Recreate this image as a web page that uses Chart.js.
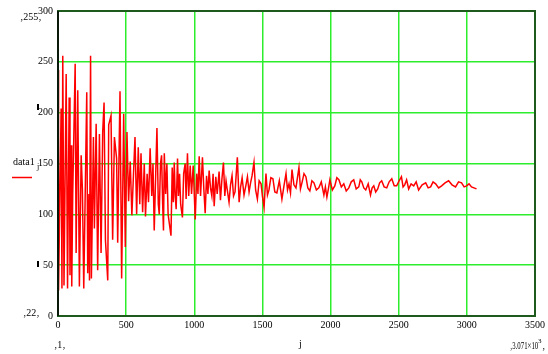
<!DOCTYPE html>
<html>
<head>
<meta charset="utf-8">
<script src="https://cdn.jsdelivr.net/npm/chart.js@4.4.0/dist/chart.umd.min.js"></script>
<style>
  html, body { margin: 0; padding: 0; background: #ffffff; }
  #wrap { width: 548px; height: 354px; position: relative; }
</style>
</head>
<body>
<div id="wrap"><canvas id="chart" width="548" height="354"></canvas></div>
<script>
// Sample index j
const jValues = [
  0, 4, 23, 29, 35, 44, 60, 70, 82, 88, 97, 101, 108, 126, 133, 145, 157, 170, 179, 189,
  211, 218, 227, 231, 239, 245, 260, 267, 280, 291, 304, 316, 328, 338, 348, 365, 372, 389, 401, 414,
  430, 438, 455, 467, 482, 494, 506, 518, 530, 542, 554, 565, 577, 589, 600, 609, 621, 633, 642, 654,
  664, 676, 688, 697, 706, 717, 726, 736, 743, 752, 760, 768, 774, 780, 790, 799, 808, 829, 838, 846,
  853, 860, 867, 877, 884, 892, 900, 913, 922, 933, 940, 950, 959, 970, 980, 992, 1007, 1018, 1027, 1036,
  1046, 1060, 1070, 1080, 1090, 1100, 1109, 1119, 1129, 1138, 1146, 1158, 1168, 1182, 1192, 1203, 1214, 1224, 1233, 1241,
  1255, 1266, 1277, 1288, 1299, 1316, 1329, 1340, 1351, 1365,
  1378, 1390, 1402, 1413, 1424, 1438, 1450, 1463, 1476, 1490, 1500, 1512, 1526, 1537, 1548, 1562, 1577, 1591, 1606, 1624,
  1643, 1658, 1673, 1684, 1695, 1706, 1717, 1731, 1746, 1757, 1768, 1779, 1790, 1805, 1819, 1833, 1848, 1863, 1878, 1896,
  1914, 1932, 1951, 1962, 1973, 1984, 1995, 2013, 2031, 2046, 2061, 2079, 2097, 2115, 2134, 2152, 2170, 2188, 2207, 2218,
  2229, 2244, 2258, 2276, 2293, 2305, 2317, 2331, 2346, 2360, 2375, 2393, 2412, 2430, 2449, 2467, 2485, 2503, 2520, 2532,
  2544, 2558, 2573, 2591, 2610, 2628, 2646, 2672, 2698, 2716, 2734, 2752, 2771, 2793, 2815, 2840, 2866, 2891, 2917, 2939,
  2961, 2980, 2998, 3016, 3034, 3052, 3071
];

// data1_j values at those indices
const dataValues = [
  242, 25, 204, 27, 256, 30, 238, 27, 215, 40, 168, 29, 120, 248, 62, 222, 29, 158, 125, 27,
  220, 42, 120, 35, 256, 37, 176, 86, 189, 45, 179, 62, 181, 210, 75, 35, 188, 197, 75, 176,
  155, 72, 221, 37, 199, 68, 181, 113, 152, 99, 140, 176, 100, 166, 110, 160, 102, 150, 98, 140,
  112, 165, 118, 150, 84, 140, 185, 110, 100, 150, 158, 110, 84, 160, 120, 150, 100, 79, 146, 112,
  151, 118, 105, 155, 118, 140, 110, 97, 140, 150, 115, 160, 118, 148, 120, 148, 95, 140, 120, 157,
  118, 156, 125, 101, 138, 120, 143, 126, 118, 140, 108, 137, 120, 142, 114, 135, 151, 118, 133, 125,
  112, 129, 138, 118, 122, 156, 112, 127, 136, 119,
  128, 137, 122, 131, 138, 151, 124, 115, 133, 130, 118, 107, 140, 119, 124, 136, 135, 122, 121, 133,
  115, 128, 140, 124, 130, 121, 144, 129, 126, 136, 146, 125, 131, 140, 137, 126, 123, 133, 131, 124,
  126, 132, 119, 127, 117, 125, 134, 124, 128, 136, 134, 127, 130, 123, 126, 132, 134, 125, 127, 134,
  132, 126, 124, 130, 119, 126, 128, 122, 125, 131, 133, 127, 126, 132, 135, 128, 128, 133, 137, 127,
  129, 134, 125, 130, 128, 132, 124, 129, 131, 126, 127, 132, 130, 126, 128, 131, 133, 129, 127, 132,
  131, 127, 128, 130, 127, 126, 125
];

// Axis ticks
const xTicks = [0, 500, 1000, 1500, 2000, 2500, 3000, 3500];
const yTicks = [0, 50, 100, 150, 200, 250, 300];

const points = jValues.map((j, i) => ({ x: j, y: dataValues[i] }));

const serif = '"Liberation Serif", "DejaVu Serif", serif';
const gridGreen = 'rgb(44, 238, 44)';
const frameGreen = 'rgb(30, 90, 30)';

// draw text squeezed horizontally (Mathcad's labels are narrow)
function narrowText(ctx, text, x, y, sx) {
  ctx.save();
  ctx.translate(x, y);
  ctx.scale(sx, 1);
  ctx.fillText(text, 0, 0);
  ctx.restore();
}

// Mathcad-style extras: frame, placeholder labels, legend
const mathcadExtras = {
  id: 'mathcadExtras',
  afterDatasetsDraw(chart) {
    const ctx = chart.ctx;
    const a = chart.chartArea;
    ctx.save();
    ctx.strokeStyle = frameGreen;
    ctx.lineWidth = 2;
    ctx.strokeRect(a.left, a.top, a.right - a.left, a.bottom - a.top);
    ctx.strokeStyle = '#0a1a0a';
    ctx.beginPath();
    ctx.moveTo(a.left, a.top);
    ctx.lineTo(a.left, a.bottom);
    ctx.stroke();

    ctx.fillStyle = '#000';
    ctx.font = '10px ' + serif;
    ctx.textBaseline = 'alphabetic';
    ctx.textAlign = 'left';
    ctx.fillText('\u201A255\u201A', 20, 20);
    ctx.fillText('\u201A22\u201A', 23, 316);
    ctx.fillText('\u201A1\u201A', 54, 348);
    ctx.fillText('j', 299, 347);
    ctx.font = '10px ' + serif;
    narrowText(ctx, '\u201A3.071\u00D710', 510, 349, 0.68);
    ctx.font = '7px ' + serif;
    ctx.fillText('3', 538, 343);
    ctx.font = '10px ' + serif;
    ctx.fillText('\u201A', 542, 349);

    ctx.font = '10px ' + serif;
    ctx.fillText('data1', 13, 165);
    ctx.font = '8px ' + serif;
    ctx.fillText('j', 37, 169);

    ctx.strokeStyle = '#ff0000';
    ctx.lineWidth = 1.5;
    ctx.beginPath();
    ctx.moveTo(12, 177.5);
    ctx.lineTo(32, 177.5);
    ctx.stroke();

    ctx.fillStyle = '#000';
    ctx.fillRect(37, 104, 2, 6);
    ctx.fillRect(37, 261, 2, 6);
    ctx.restore();
  }
};

new Chart(document.getElementById('chart'), {
  type: 'line',
  data: {
    datasets: [{
      label: 'data1',
      data: points,
      borderColor: '#ff0000',
      borderWidth: 1.5,
      pointRadius: 0,
      tension: 0,
      fill: false
    }]
  },
  options: {
    responsive: false,
    animation: false,
    layout: { padding: { left: 0, right: 11, top: 7, bottom: 0 } },
    plugins: {
      legend: { display: false },
      tooltip: { enabled: false }
    },
    scales: {
      x: {
        type: 'linear',
        min: 0,
        max: 3500,
        afterBuildTicks: s => { s.ticks = xTicks.map(v => ({ value: v })); },
        afterFit: s => { s.height = 38; },
        ticks: {
          color: '#000', font: { family: serif, size: 10 }, padding: 3, maxRotation: 0,
          callback: v => String(v)
        },
        grid: { color: gridGreen, lineWidth: 1.5, drawTicks: false },
        border: { display: true, color: frameGreen, width: 2 }
      },
      y: {
        min: 0,
        max: 300,
        afterBuildTicks: s => { s.ticks = yTicks.map(v => ({ value: v })); },
        afterFit: s => { s.width = 58; },
        ticks: {
          color: '#000', font: { family: serif, size: 10 }, padding: 5,
          callback: v => String(v)
        },
        grid: { color: gridGreen, lineWidth: 1.5, drawTicks: false },
        border: { display: true, color: '#0a1a0a', width: 2 }
      }
    }
  },
  plugins: [mathcadExtras]
});
</script>
</body>
</html>
